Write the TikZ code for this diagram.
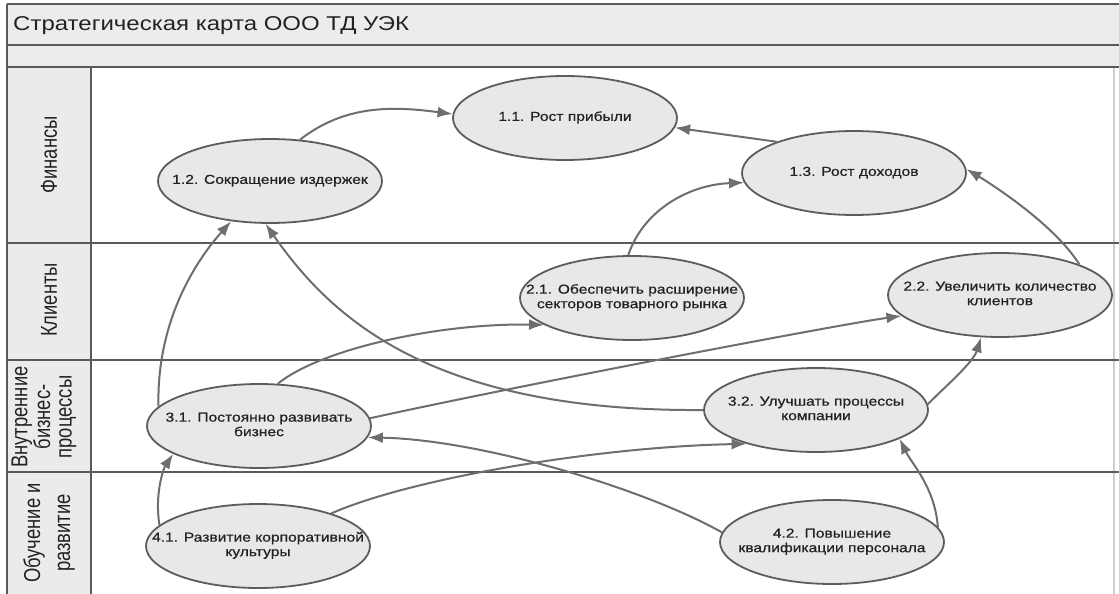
\documentclass[tikz,border=0pt]{standalone}
\usepackage{fontspec}
\setmainfont{Liberation Sans}
\newfontfamily\elfont[FakeStretch=1.2,FakeBold=0.6]{Liberation Sans}
\newfontfamily\titlefont[FakeStretch=1.2]{Liberation Sans}
\newfontfamily\lanefont[FakeStretch=0.8]{Liberation Sans}
\usetikzlibrary{shapes.geometric,arrows.meta}
\definecolor{bandfill}{HTML}{ECECEC}
\definecolor{colfill}{HTML}{EBEBEB}
\definecolor{framecol}{HTML}{5A5A5A}
\definecolor{elfill}{HTML}{E8E8E8}
\definecolor{elborder}{HTML}{5C5C5C}
\definecolor{arrcol}{HTML}{6E6E6E}
\definecolor{txtcol}{HTML}{222222}
\definecolor{rightline}{HTML}{CFCFCF}
\newcommand\gl[1]{\makebox[0pt]{\begin{tabular}{@{}c@{}}#1\end{tabular}}}
\tikzset{
  frameline/.style={draw=framecol, line width=2pt},
  goal/.style={ellipse, draw=elborder, fill=elfill, line width=1.8pt,
    minimum width=224pt, minimum height=84pt, inner sep=0pt,
    font=\elfont\fontsize{13}{14.5}\selectfont, text=txtcol},
  lanelbl/.style={rotate=90, inner sep=0pt, align=center, text=txtcol,
    font=\lanefont\fontsize{23}{21.5}\selectfont},
  arr/.style={draw=arrcol, line width=2pt, -{Latex[length=15pt,width=11pt]}},
}
\begin{document}
\begin{tikzpicture}[x=1pt,y=-1pt]
\useasboundingbox (0,0) rectangle (1119,594);
\fill[white] (0,0) rectangle (1119,594);
% bands
\fill[bandfill] (7,4) rectangle (1119,67);
\fill[colfill] (7,67) rectangle (91,594);
\draw[rightline, line width=1.5pt] (1114,67) -- (1114,594);
\draw[frameline] (7,4) -- (1119,4);
\draw[frameline] (7,45) -- (1119,45);
\draw[frameline] (7,67) -- (1119,67);
\draw[frameline] (7,243) -- (1119,243);
\draw[frameline] (7,360) -- (1119,360);
\draw[frameline] (7,472) -- (1119,472);
\draw[frameline] (7,4) -- (7,594);
\draw[frameline] (91,67) -- (91,594);
% title
\node[anchor=west, inner sep=0pt, text=txtcol, font=\titlefont\fontsize{20}{22}\selectfont] (title) at (13,26) {Стратегическая карта ООО ТД УЭК};
% lane labels
\node[lanelbl] (lf) at (49,155) {Финансы};
\node[lanelbl] (lk) at (49,300) {Клиенты};
\node[lanelbl] (lv) at (44,417) {Внутренние\\бизнес-\\процессы};
\node[lanelbl, font=\lanefont\fontsize{23}{30}\selectfont] (lo) at (49,533) {Обучение и\\развитие};
% goals
\node[goal] (e11) at (565,118) {\gl{1.1. Рост прибыли}};
\node[goal] (e12) at (270,181) {\gl{1.2. Сокращение издержек}};
\node[goal] (e13) at (854,173) {\gl{1.3. Рост доходов}};
\node[goal] (e21) at (632,298) {\gl{2.1. Обеспечить расширение\\секторов товарного рынка}};
\node[goal] (e22) at (1000,295) {\gl{2.2. Увеличить количество\\клиентов}};
\node[goal] (e31) at (259,426) {\gl{3.1. Постоянно развивать\\бизнес}};
\node[goal] (e32) at (816,410) {\gl{3.2. Улучшать процессы\\компании}};
\node[goal] (e41) at (258,546) {\gl{4.1. Развитие корпоративной\\культуры}};
\node[goal] (e42) at (832,542) {\gl{4.2. Повышение\\квалификации персонала}};
% connectors
\draw[arr] (e12.54) .. controls +(45,-35) and +(-60,-8) .. (e11.178);
\draw[arr] (e13.158) -- (e11.-5);
\draw[arr] (e21.95) .. controls +(15,-45) and +(-55,2) .. (e13.185);
\draw[arr] (e22.21) .. controls +(-25,-40) and +(25,15) .. (e13.2);
\draw[arr] (e31.169) .. controls +(-2,-80) and +(-40,45) .. (e12.226);
\draw[arr] (e32.180) .. controls +(-273,2) and +(65,93) .. (e12.264);
\draw[arr] (e31.66) .. controls +(43,-35) and +(-104,-2) .. (e21.197);
\draw[arr] (e31.4) .. controls +(150,-33) and +(-60,8) .. (e22.192);
\draw[arr] (e32.3) .. controls +(20,-20) and +(-8,25) .. (e22.246);
\draw[arr] (e41.168) .. controls +(-5,-30) and +(-10,15) .. (e31.198);
\draw[arr] (e41.24) .. controls +(80,-35) and +(-150,3) .. (e32.206);
\draw[arr] (e42.175) .. controls +(-80,-45) and +(110,2) .. (e31.-6);
\draw[arr] (e42.8) .. controls +(-3,-40) and +(12,25) .. (e32.-19);
\end{tikzpicture}
\end{document}
